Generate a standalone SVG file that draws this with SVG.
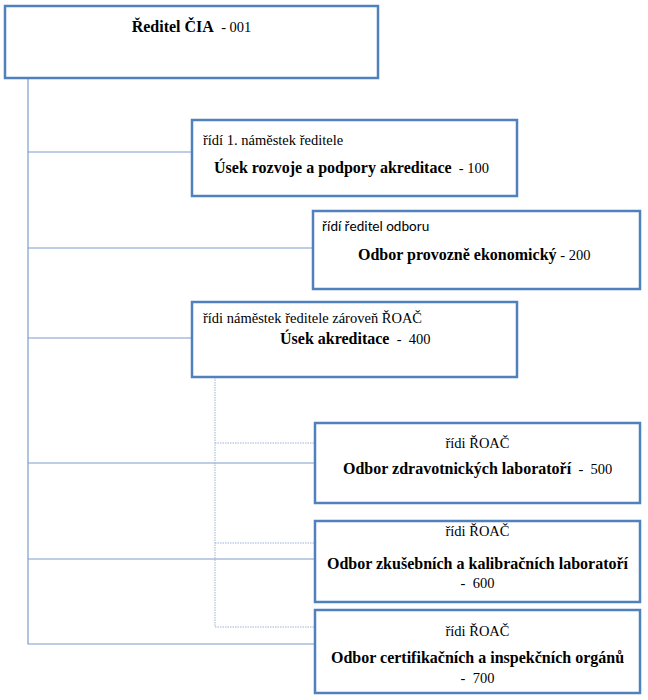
<svg xmlns="http://www.w3.org/2000/svg" width="648" height="700" viewBox="0 0 648 700">
<style>
.box{fill:#fff;stroke:#4F81BD;stroke-width:2.5}
.ln{fill:none;stroke:#7F9CC9;stroke-width:1.2}
.dt{fill:none;stroke:#9DB3D8;stroke-width:1;stroke-dasharray:1.5 1}
.s{font-family:"Liberation Serif","Times New Roman",serif;font-size:14.5px;fill:#000}
.b{font-weight:bold;font-size:16px}
.c{font-family:Carlito,"Liberation Sans",Arial,sans-serif;font-size:14.5px;fill:#000}
</style>
<rect width="648" height="700" fill="#fff"/>
<g id="connectors">
<path class="ln" d="M28,78 V644 H315"/>
<path class="ln" d="M28,152 H192 M28,248 H313 M28,338 H192 M28,463 H315 M28,559 H315"/>
<path class="dt" d="M215,377 V627 H315 M215,443 H315 M215,543 H315"/>
</g>
<g id="n001">
<rect class="box" x="5" y="6" width="373" height="72"/>
<text class="s" x="191.5" y="32" text-anchor="middle" xml:space="preserve"><tspan class="b">Ředitel ČIA</tspan>  - 001</text>
</g>
<g id="n100">
<rect class="box" x="192" y="120" width="325" height="76"/>
<text class="s" x="203" y="145">řídí 1. náměstek ředitele</text>
<text class="s" x="214" y="173" xml:space="preserve"><tspan class="b">Úsek rozvoje a podpory akreditace</tspan>  - 100</text>
</g>
<g id="n200">
<rect class="box" x="313" y="211" width="327" height="78"/>
<text class="c" x="322" y="231">řídí ředitel odboru</text>
<text class="s" x="358" y="260"><tspan class="b">Odbor provozně ekonomický</tspan> - 200</text>
</g>
<g id="n400">
<rect class="box" x="192" y="302" width="325" height="75"/>
<text class="s" x="203" y="323">řídi náměstek ředitele zároveň ŘOAČ</text>
<text class="s" x="280" y="344" xml:space="preserve"><tspan class="b">Úsek akreditace</tspan>  -  400</text>
</g>
<g id="n500">
<rect class="box" x="315" y="423" width="325" height="80"/>
<text class="s" x="477.5" y="448" text-anchor="middle">řídi ŘOAČ</text>
<text class="s" x="343" y="474" xml:space="preserve"><tspan class="b">Odbor zdravotnických laboratoří</tspan>  -  500</text>
</g>
<g id="n600">
<rect class="box" x="315" y="521" width="325" height="81"/>
<text class="s" x="477.5" y="536" text-anchor="middle">řídi ŘOAČ</text>
<text class="s b" x="477.5" y="569" text-anchor="middle">Odbor zkušebních a kalibračních laboratoří</text>
<text class="s" x="477.5" y="588" text-anchor="middle" xml:space="preserve">-  600</text>
</g>
<g id="n700">
<rect class="box" x="315" y="610" width="325" height="83"/>
<text class="s" x="477.5" y="636" text-anchor="middle">řídi ŘOAČ</text>
<text class="s b" x="477.5" y="663" text-anchor="middle">Odbor certifikačních a inspekčních orgánů</text>
<text class="s" x="477.5" y="683" text-anchor="middle" xml:space="preserve">-  700</text>
</g>
</svg>
